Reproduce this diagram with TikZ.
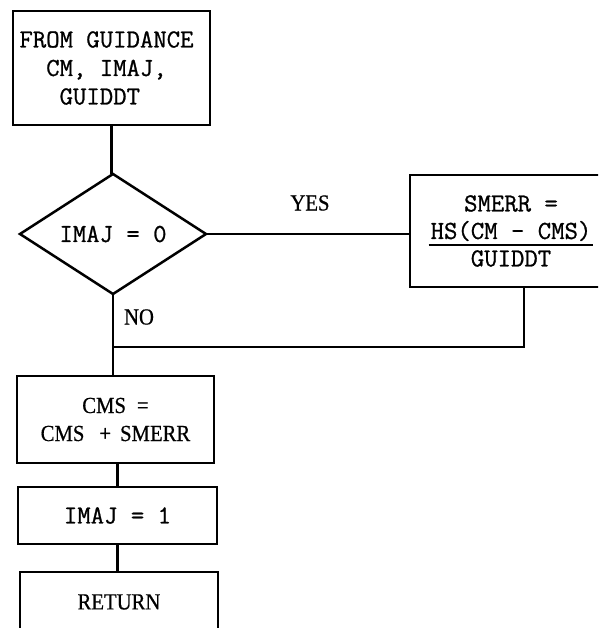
\documentclass[tikz,border=0pt]{standalone}
\usepackage{fontspec}
\newfontfamily\propfont{Liberation Serif}[FakeBold=0.6,FakeStretch=0.9]
\newfontfamily\typefont{Latin Modern Mono}[FakeBold=0.9]
\usetikzlibrary{shapes.geometric,calc}
\newcommand{\myfracline}[1]{\setbox0\hbox{#1}\makebox[\wd0]{\rlap{\hspace{-2pt}\raisebox{-7pt}{\rule{\dimexpr\wd0+4pt\relax}{2.2pt}}}\box0}}
\begin{document}
\begin{tikzpicture}[x=1pt,y=-1pt,
  every node/.style={inner sep=0pt, outer sep=0pt},
  ln/.style={line width=2.5pt},
  tt/.style={font=\fontsize{26}{28.5}\typefont\selectfont},
  pr/.style={font=\fontsize{23}{28}\propfont\selectfont},
  box/.style={draw, line width=2.5pt, rectangle, align=center}
]
\useasboundingbox (0,0) rectangle (598,628);
\clip (0,0) rectangle (598,628);
\node[box,tt,align=left,minimum width=197pt,minimum height=114pt] (start) at (111.5,68) {FROM GUIDANCE\hspace*{10pt}\\\phantom{XX}CM, IMAJ,\\\phantom{XXX}GUIDDT};
\node[draw, ln, diamond, aspect=2, minimum width=186pt, minimum height=120pt, tt] (dec) at (113,234) {IMAJ = 0};
\node[box, font=\fontsize{26}{27.5}\typefont\selectfont, minimum width=202pt, minimum height=112pt] (smerr) at (511,231) {SMERR =\\\myfracline{HS(CM - CMS)}\\GUIDDT};
\node[pr] (yes) at (310,203) {YES};
\node[pr] (no) at (139,317) {NO};
\node[box, pr, minimum width=197pt, minimum height=87pt] (cms) at (115.5,419.5) {CMS\hspace{11pt}=\\CMS\hspace{15pt}+\hspace{9pt}SMERR};
\node[box, tt, minimum width=199pt, minimum height=57pt] (imaj) at (117.5,515.5) {IMAJ = 1};
\node[box, pr, minimum width=198pt, minimum height=60pt] (ret) at (119,602) {RETURN};
\coordinate (j) at ($(dec.south)+(0,53)$);
\coordinate (rdrop) at ($(smerr.south)+(13,0)$);
\draw[ln] (start.south) -- (start.south |- dec.north);
\draw[ln] (dec.east) -- (dec.east -| smerr.west);
\draw[ln] (rdrop) |- (j);
\draw[ln] (dec.south) -- (dec.south |- cms.north);
\draw[ln] (imaj.north |- cms.south) -- (imaj.north);
\draw[ln] (imaj.south) -- (imaj.south |- ret.north);
\end{tikzpicture}
\end{document}
